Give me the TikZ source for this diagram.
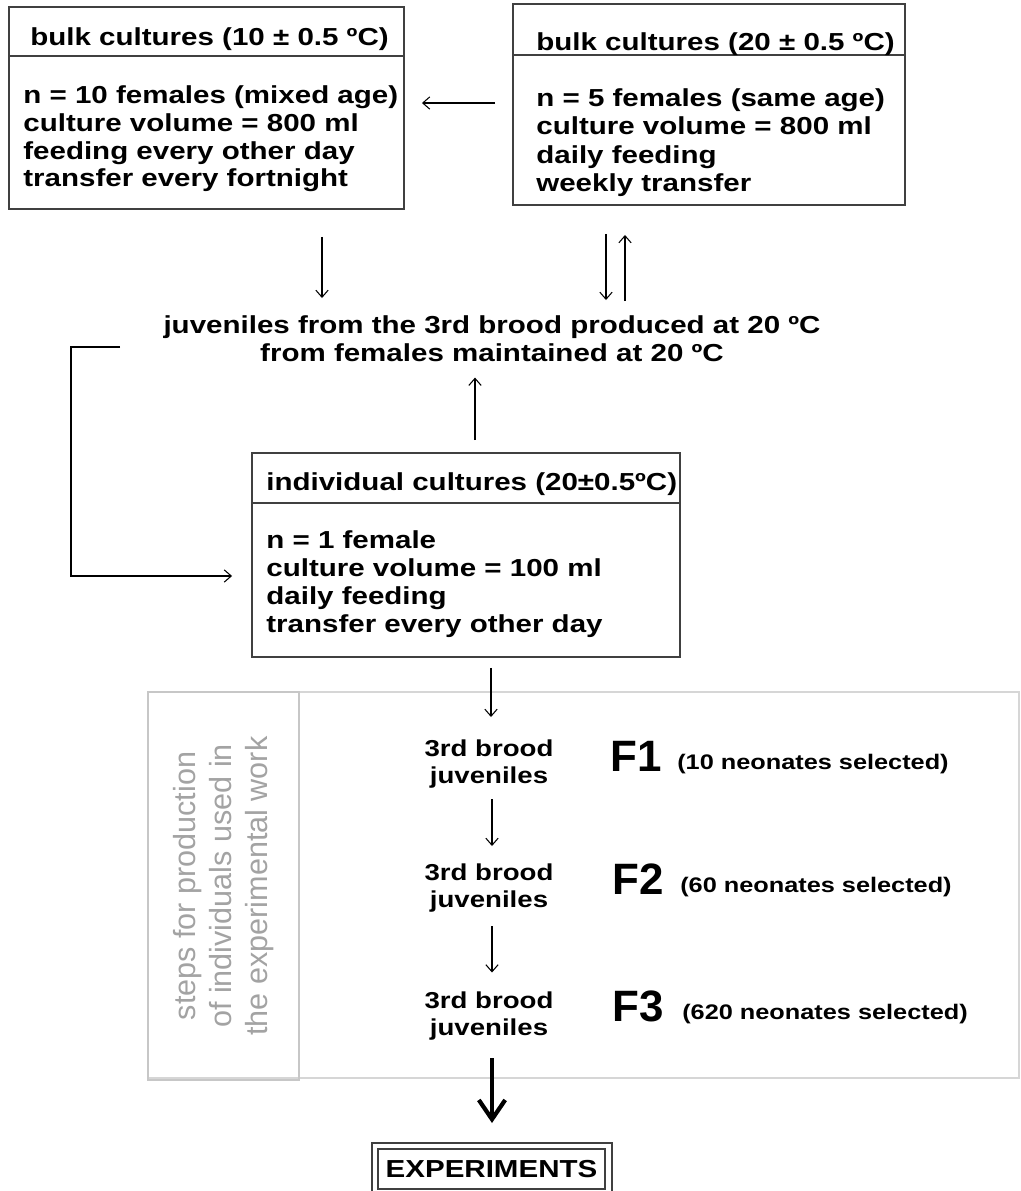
\documentclass[tikz,border=0pt]{standalone}
\usepackage{fontspec}
\setmainfont{Liberation Sans}[FakeStretch=1.2]
\newfontfamily\notefont{Liberation Sans}
\usetikzlibrary{positioning}
\usetikzlibrary{arrows.meta}

\begin{document}
\begin{tikzpicture}[x=0.02cm,y=-0.02cm]
        \tikzset{box/.style={draw=black!75,line width=0.8pt,inner sep=0pt,outer sep=0pt},
                 txt/.style={font=\bfseries\fontsize{14}{15.9}\selectfont,inner sep=0pt,align=left},
                 gen/.style={font=\bfseries\fontsize{13.1}{15.9}\selectfont,inner sep=0pt,align=center},
                 fgen/.style={font=\notefont\bfseries\fontsize{25}{27}\selectfont,inner sep=0pt},
                 sel/.style={font=\bfseries\fontsize{12}{14}\selectfont,inner sep=0pt},
                 arr/.style={-{Straight Barb[length=4pt,width=7pt]},line width=0.6pt},
                 bigarr/.style={-{Straight Barb[length=11pt,width=15pt]},line width=2.4pt},
                 panel/.style={draw=black!16,line width=0.7pt}}

        \fill[white] (0,0) rectangle (1021,1191);
        \useasboundingbox (0,0) rectangle (1021,1191);

        % culture boxes
        \node[box,minimum width=7.9cm,minimum height=4.04cm] (bulkA) at (206.5,108) {};
        \node[box,minimum width=7.84cm,minimum height=4.02cm] (bulkB) at (709,104.5) {};
        \node[box,minimum width=8.56cm,minimum height=4.08cm] (indiv) at (466,555) {};
        \draw[box] (bulkA.west |- 0,56) -- (bulkA.east |- 0,56);
        \draw[box] (bulkB.west |- 0,55) -- (bulkB.east |- 0,55);
        \draw[box] (indiv.west |- 0,503) -- (indiv.east |- 0,503);

        \node[txt,anchor=base west] (headA) at (30,45) {bulk cultures (10 ± 0.5 ºC)};
        \node[txt,anchor=north west] (bodyA) at (23,85) {n = 10 females (mixed age)\\culture volume = 800 ml\\feeding every other day\\transfer every fortnight};
        \node[txt,anchor=base west] (headB) at (536,50) {bulk cultures (20 ± 0.5 ºC)};
        \node[txt,anchor=north west,font=\bfseries\fontsize{14}{16.2}\selectfont] (bodyB) at (536,88) {n = 5 females (same age)\\culture volume = 800 ml\\daily feeding\\weekly transfer};
        \node[txt,anchor=base west] (headC) at (266,490) {individual cultures (20±0.5ºC)};
        \node[txt,anchor=north west,font=\bfseries\fontsize{14}{16}\selectfont] (bodyC) at (266,530) {n = 1 female\\culture volume = 100 ml\\daily feeding\\transfer every other day};

        \node[txt,align=center,anchor=north,font=\bfseries\fontsize{14}{16.4}\selectfont] (juv) at (492,315) {juveniles from the 3rd brood produced at 20 ºC\\from females maintained at 20 ºC};

        % generations
        \draw[panel] (148,692) rectangle (1019,1078);
        \node[panel,draw=black!22,inner sep=0pt,minimum width=3.02cm,minimum height=7.76cm] (note) at (223.5,886) {};
        \node[rotate=90,align=center,text=black!36,font=\notefont\fontsize{17.4}{20.4}\selectfont] (notetext) at (note.center) {steps for production\\of individuals used in\\the experimental work};

        \node[gen,anchor=north] (gen1) at (489,739) {3rd brood\\juveniles};
        \node[gen,anchor=north] (gen2) at (489,863) {3rd brood\\juveniles};
        \node[gen,anchor=north] (gen3) at (489,991) {3rd brood\\juveniles};
        \node[fgen,anchor=base west] (F1) at (610,771) {F1};
        \node[fgen,anchor=base west] (F2) at (612,894) {F2};
        \node[fgen,anchor=base west] (F3) at (612,1021) {F3};
        \node[sel,anchor=base west] (sel1) at ([xshift=0.3cm,yshift=0.04cm]F1.base east) {(10 neonates selected)};
        \node[sel,anchor=base west] (sel2) at ([xshift=0.32cm,yshift=0.04cm]F2.base east) {(60 neonates selected)};
        \node[sel,anchor=base west] (sel3) at ([xshift=0.36cm,yshift=0.04cm]F3.base east) {(620 neonates selected)};

        \node[box,minimum width=4.54cm,minimum height=0.8cm,font=\bfseries\fontsize{14}{16}\selectfont] (expt) at (491.5,1169) {EXPERIMENTS};
        \draw[box] (372,1193) |- (612,1143) -- (612,1193);

        % connectors
        \draw[arr,shorten <=0.36cm,shorten >=0.36cm] (bulkB.west |- 0,103) -- (bulkA.east |- 0,103);
        \draw[arr,shorten <=0.56cm,shorten >=0.34cm] (bulkA.south -| 322,0) -- (juv.north -| 322,0);
        \draw[arr,shorten <=0.58cm,shorten >=0.3cm] (bulkB.south -| 606,0) -- (juv.north -| 606,0);
        \draw[arr,shorten <=0.28cm,shorten >=0.6cm] (juv.north -| 625,0) -- (bulkB.south -| 625,0);
        \draw[arr,shorten <=0.86cm,shorten >=0.4cm] (juv.west |- 0,347) -- (71,347) |- (indiv.west |- 0,576);
        \draw[arr,shorten <=0.26cm,shorten >=0.3cm] (indiv.north -| 475,0) -- (juv.south -| 475,0);
        \draw[arr,shorten <=0.22cm,shorten >=0.44cm] (indiv.south -| 491,0) -- (gen1.north -| 491,0);
        \draw[arr,shorten <=0.2cm,shorten >=0.34cm] (gen1.south -| 492,0) -- (gen2.north -| 492,0);
        \draw[arr,shorten <=0.26cm,shorten >=0.37cm] (gen2.south -| 492,0) -- (gen3.north -| 492,0);
        \draw[bigarr,shorten <=0.34cm,shorten >=0.52cm] (gen3.south -| 492,0) -- (expt.north -| 492,0);
\end{tikzpicture}
\end{document}
